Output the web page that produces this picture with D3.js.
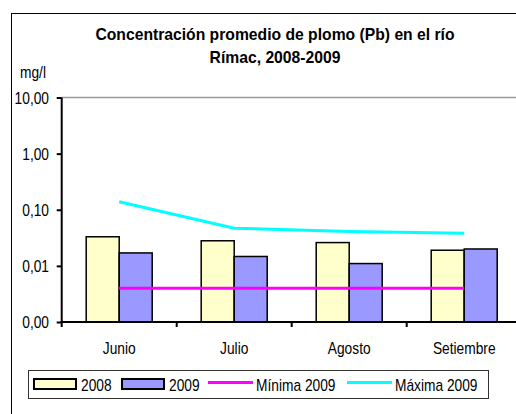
<!DOCTYPE html>
<html>
<head>
<meta charset="utf-8">
<script src="https://cdn.jsdelivr.net/npm/d3@7/dist/d3.min.js"></script>
<style>
  body { margin: 0; background: #fff; }
  svg { font-family: 'Liberation Sans', Arial, sans-serif; }
</style>
</head>
<body>
<script>
(function () {
  'use strict'
  const months = ['Junio', 'Julio', 'Agosto', 'Setiembre']
  const years = ['2008', '2009']
  const pb2008 = [0.033, 0.028, 0.026, 0.019]
  const pb2009 = [0.017, 0.0147, 0.011, 0.020]
  const min2009 = [0.004, 0.004, 0.004, 0.004]
  const max2009 = [0.139, 0.047, 0.041, 0.038]
  const yTicks = [0.001, 0.01, 0.1, 1, 10]

  const width = 516
  const height = 414
  const plot = {left: 61.7, right: 521.7, top: 97.5, bottom: 322}
  const squeeze = 0.86 // no narrow font installed, so squash a regular one

  const svg = d3.select('body').append('svg')
    .attr('width', width)
    .attr('height', height)

  function narrowText(parent, px, py, anchor, str) {
    return parent.append('text')
      .attr('transform', `translate(${px},${py}) scale(${squeeze},1)`)
      .attr('text-anchor', anchor)
      .attr('font-size', '16px')
      .attr('fill', '#000')
      .text(str)
  }

  // chart frame (runs off the right/bottom edges)
  svg.append('rect')
    .attr('x', 11.5).attr('y', 13.5)
    .attr('width', 600).attr('height', 500)
    .style('fill', 'none').style('stroke', '#000').style('stroke-width', 1)

  const x = d3.scaleBand().domain(months).range([plot.left, plot.right])
  const xSub = d3.scaleBand().domain(years).range([24.5, 90.5])
  const y = d3.scaleLog().domain([0.001, 10]).range([plot.bottom, plot.top])
  const color = {'2008': '#FFFFCC', '2009': '#9999FF'}

  const locale = d3.formatLocale({decimal: ',', thousands: '.', grouping: [3], currency: ['', '']})
  const fmt = locale.format('.2f')

  // title
  svg.append('text')
    .attr('x', 275).attr('y', 40)
    .attr('text-anchor', 'middle')
    .attr('font-size', '15.7px').attr('font-weight', 'bold')
    .text('Concentración promedio de plomo (Pb) en el río')
  svg.append('text')
    .attr('x', 275).attr('y', 63)
    .attr('text-anchor', 'middle')
    .attr('font-size', '15.7px').attr('font-weight', 'bold')
    .text('Rímac, 2008-2009')
  narrowText(svg, 20, 78, 'start', 'mg/l')

  // top border of plot area
  svg.append('line')
    .attr('x1', plot.left).attr('x2', width)
    .attr('y1', y(10)).attr('y2', y(10))
    .style('stroke', '#999').style('stroke-width', 1.5)

  // bars
  const table = months.map((m, i) => ({month: m, values: [
    {year: '2008', v: pb2008[i]},
    {year: '2009', v: pb2009[i]}
  ]}))
  const groups = svg.selectAll('g.grp')
    .data(table)
    .enter().append('g')
    .attr('class', 'grp')
    .attr('transform', d => `translate(${x(d.month)},0)`)
  groups.selectAll('rect')
    .data(d => d.values)
    .enter().append('rect')
    .attr('x', d => xSub(d.year))
    .attr('width', xSub.bandwidth())
    .attr('y', d => y(d.v))
    .attr('height', d => plot.bottom - y(d.v))
    .style('fill', d => color[d.year])
    .style('stroke', '#000').style('stroke-width', 1.5)

  // lines
  const line = d3.line()
    .x((d, i) => x(months[i]) + x.bandwidth() / 2)
    .y(d => y(d))
  svg.append('path').datum(min2009)
    .attr('d', line)
    .style('fill', 'none').style('stroke', '#FF00FF').style('stroke-width', 3)
  svg.append('path').datum(max2009)
    .attr('d', line)
    .style('fill', 'none').style('stroke', '#00FFFF').style('stroke-width', 3)

  // y axis (labels drawn separately so they can be squeezed)
  const yAxis = svg.append('g')
    .attr('transform', `translate(${plot.left},0)`)
    .call(d3.axisLeft(y).tickValues(yTicks).tickFormat('').tickSize(5))
  yAxis.select('.domain').attr('d', `M0,${plot.top}V${plot.bottom}`).style('stroke-width', 2)
  yAxis.selectAll('.tick line').style('stroke-width', 2)
  yTicks.forEach(t => {
    narrowText(svg, 49, y(t) + 6, 'end', fmt(t))
  })

  // x axis
  const xAxis = svg.append('g')
    .attr('transform', `translate(0,${plot.bottom})`)
  xAxis.append('line')
    .attr('x1', plot.left - 1).attr('x2', width)
    .style('stroke', '#000').style('stroke-width', 2)
  xAxis.selectAll('line.tk')
    .data(months)
    .enter().append('line')
    .attr('class', 'tk')
    .attr('x1', d => x(d)).attr('x2', d => x(d))
    .attr('y1', 0).attr('y2', 5)
    .style('stroke', '#000').style('stroke-width', 2)
  months.forEach(m => {
    narrowText(xAxis, x(m) + x.bandwidth() / 2, 32, 'middle', m)
  })

  // legend
  const legend = svg.append('g')
  legend.append('rect')
    .attr('x', 28.5).attr('y', 370.5)
    .attr('width', 460).attr('height', 28)
    .style('fill', '#fff').style('stroke', '#333').style('stroke-width', 1)
  const legendItems = [
    {label: '2008', type: 'rect', fill: color['2008'], x: 33},
    {label: '2009', type: 'rect', fill: color['2009'], x: 121},
    {label: 'Mínima 2009', type: 'line', fill: '#FF00FF', x: 208},
    {label: 'Máxima 2009', type: 'line', fill: '#00FFFF', x: 347}
  ]
  legendItems.forEach(d => {
    if (d.type === 'rect') {
      legend.append('rect')
        .attr('x', d.x + 1).attr('y', 379)
        .attr('width', 42).attr('height', 10)
        .style('fill', d.fill).style('stroke', '#000').style('stroke-width', 2)
    } else {
      legend.append('line')
        .attr('x1', d.x).attr('x2', d.x + 45)
        .attr('y1', 382.5).attr('y2', 382.5)
        .style('stroke', d.fill).style('stroke-width', 3)
    }
    narrowText(legend, d.x + 48, 390.5, 'start', d.label)
  })
})()
</script>
</body>
</html>
